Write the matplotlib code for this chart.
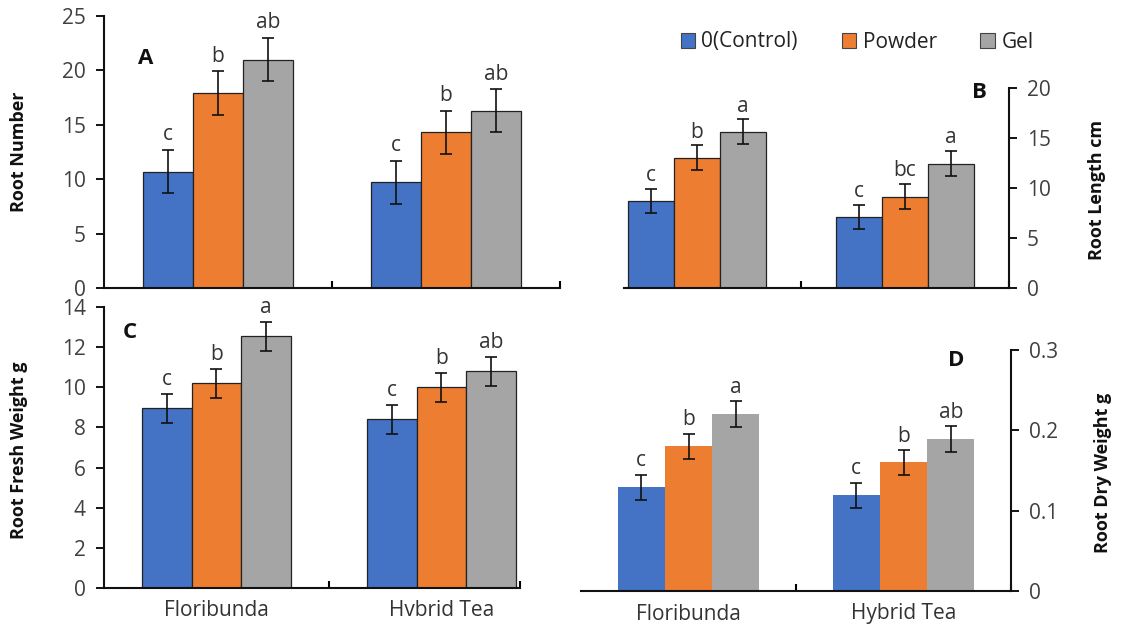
import matplotlib
matplotlib.use("Agg")
import matplotlib.pyplot as plt
from matplotlib.patches import Patch
import numpy as np

plt.rcParams['font.family'] = ['Open Sans', 'DejaVu Sans']

treatments = ["0(Control)", "Powder", "Gel"]
colors = ["#4472C4", "#ED7D31", "#A5A5A5"]

# values: [Floribunda, Hybrid Tea] for each treatment
root_number = [[10.7, 9.7], [17.9, 14.3], [21.0, 16.3]]
root_number_err = [[2.0, 2.0], [2.0, 2.0], [2.0, 2.0]]
root_number_sig = [["c", "c"], ["b", "b"], ["ab", "ab"]]

root_length = [[8.7, 7.1], [13.0, 9.1], [15.6, 12.4]]
root_length_err = [[1.2, 1.2], [1.25, 1.25], [1.25, 1.25]]
root_length_sig = [["c", "c"], ["b", "bc"], ["a", "a"]]

fresh_weight = [[8.95, 8.4], [10.2, 10.0], [12.55, 10.8]]
fresh_weight_err = [[0.73, 0.73], [0.72, 0.72], [0.72, 0.72]]
fresh_weight_sig = [["c", "c"], ["b", "b"], ["a", "ab"]]

dry_weight = [[0.129, 0.119], [0.180, 0.160], [0.220, 0.189]]
dry_weight_err = [[0.016, 0.016], [0.016, 0.015], [0.016, 0.016]]
dry_weight_sig = [["c", "c"], ["b", "b"], ["a", "ab"]]

cats_c = ["Floribunda", "Hvbrid Tea"]
cats_d = ["Floribunda", "Hybrid Tea"]

W, H = 1121, 634
fig = plt.figure(figsize=(W / 100, H / 100), dpi=100)


def make_ax(left, right, top, bottom):
    return fig.add_axes([left / W, (H - bottom) / H, (right - left) / W, (bottom - top) / H])


def draw_panel(ax, vals, errs, sigs, ymax, yticks, xlim, side, edge, letter_off, tick_fmt):
    x = np.arange(2)
    width = 0.22
    for i in range(3):
        pos = x + (i - 1) * width
        ax.bar(pos, vals[i], width, color=colors[i],
               edgecolor="#222222" if edge else "none", linewidth=0.9 if edge else 0,
               yerr=errs[i], capsize=4,
               error_kw=dict(elinewidth=1.2, capthick=1.2, ecolor="#111111"))
        for j in range(2):
            ax.text(pos[j], vals[i][j] + errs[i][j] + letter_off, sigs[i][j],
                    ha="center", va="bottom", fontsize=15, color="#333333")
    ax.set_xlim(*xlim)
    ax.set_ylim(0, ymax)
    ax.set_yticks(yticks)
    ax.set_yticklabels([tick_fmt(t) for t in yticks])
    for s in ["top", "left", "right"]:
        ax.spines[s].set_visible(False)
    ax.spines[side].set_visible(True)
    ax.spines[side].set_linewidth(1.5)
    ax.spines["bottom"].set_linewidth(1.5)
    ax.spines[side].set_color("#111111")
    ax.spines["bottom"].set_color("#111111")
    if side == "right":
        ax.yaxis.tick_right()
    ax.tick_params(axis="y", length=6, width=1.3, labelsize=15, labelcolor="#404040", pad=7)
    ax.set_xticks([0.5, xlim[1]], minor=True)
    ax.tick_params(axis="x", which="minor", direction="in", length=5, width=1.5)
    ax.set_xticks(x)
    ax.tick_params(axis="x", which="major", length=0, labelsize=15, labelcolor="#333333", pad=9)


axA = make_ax(104, 560, 16, 288)
draw_panel(axA, root_number, root_number_err, root_number_sig, 25, [0, 5, 10, 15, 20, 25],
           (-0.5, 1.5), "left", True, 0.4, lambda t: f"{t:g}")
axA.set_xticklabels([])

axB = make_ax(624, 1009, 88, 288)
draw_panel(axB, root_length, root_length_err, root_length_sig, 20, [0, 5, 10, 15, 20],
           (-0.35, 1.5), "right", True, 0.3, lambda t: f"{t:g}")
axB.set_xticklabels([])

axC = make_ax(104, 520, 307, 588)
draw_panel(axC, fresh_weight, fresh_weight_err, fresh_weight_sig, 14, [0, 2, 4, 6, 8, 10, 12, 14],
           (-0.5, 1.35), "left", True, 0.2, lambda t: f"{t:g}")
axC.set_xticklabels(cats_c)

axD = make_ax(581, 1011, 350, 591)
draw_panel(axD, dry_weight, dry_weight_err, dry_weight_sig, 0.3, [0, 0.1, 0.2, 0.3],
           (-0.5, 1.5), "right", False, 0.004, lambda t: "0" if t == 0 else f"{t:.1f}")
axD.set_xticklabels(cats_d)

lab = dict(fontsize=13, fontweight="bold", color="#111111", rotation=90, ha="center", va="center")
fig.text(19 / W, 1 - 152 / H, "Root Number", **lab)
fig.text(1097 / W, 1 - 190 / H, "Root Length cm", **lab)
fig.text(19 / W, 1 - 450 / H, "Root Fresh Weight g", **lab)
fig.text(1103 / W, 1 - 473 / H, "Root Dry Weight g", **lab)

pl = dict(fontsize=16, fontweight="bold", color="#111111", ha="center", va="center")
fig.text(146 / W, 1 - 58 / H, "A", **pl)
fig.text(979 / W, 1 - 93 / H, "B", **pl)
fig.text(130 / W, 1 - 332 / H, "C", **pl)
fig.text(956 / W, 1 - 360 / H, "D", **pl)

handles = [Patch(facecolor=c, edgecolor="#444444", linewidth=0.8) for c in colors]
fig.legend(handles, treatments, loc="center", bbox_to_anchor=(857 / W, 1 - 42 / H),
           ncol=3, frameon=False, fontsize=15, handlelength=0.7, handleheight=0.7,
           handletextpad=0.3, columnspacing=2.1, labelcolor="#222222")

fig.savefig("out.png", dpi=100)
